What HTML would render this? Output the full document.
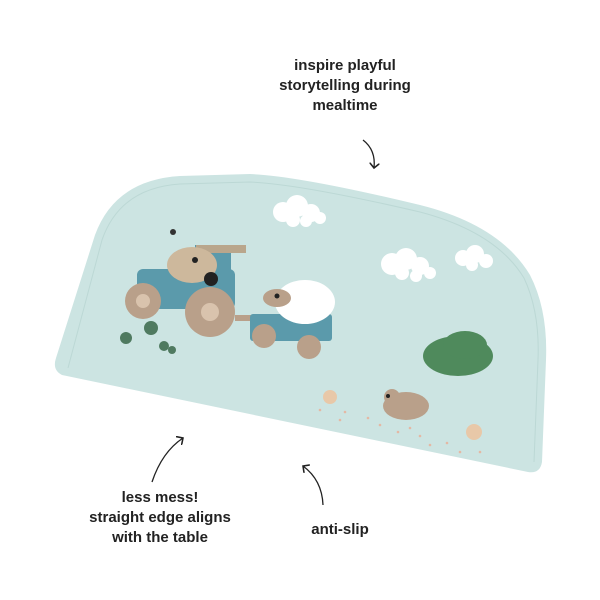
<!DOCTYPE html>
<html><head><style>
body{margin:0;width:600px;height:600px;background:#fff;overflow:hidden;position:relative;font-family:"Liberation Sans",sans-serif}
.t{position:absolute;font-weight:bold;font-size:15px;color:#222;text-align:center;line-height:20px}
</style></head><body>
<svg width="600" height="600" style="position:absolute;left:0;top:0">
<defs><marker id="a" markerWidth="8" markerHeight="8" refX="4" refY="4" orient="auto"><path d="M0,0 L4,4 L0,8" fill="none" stroke="#222" stroke-width="1.2"/></marker></defs>
<path d="M62,375 Q52,370 56,358 L95,235 Q115,180 180,176 L250,174 Q300,176 420,205 Q500,225 530,275 Q548,310 546,360 L542,462 Q540,474 528,472 Z" fill="#cce4e2"/>
<path d="M68,368 L102,240 Q120,188 180,184 L250,182 Q300,184 420,212 Q496,232 524,278 Q540,312 538,360 L534,462" fill="none" stroke="#bcd8d5" stroke-width="1"/>
<g fill="#fff">
<circle cx="283" cy="212" r="10"/><circle cx="297" cy="206" r="11"/><circle cx="311" cy="213" r="9"/><circle cx="320" cy="218" r="6"/><circle cx="293" cy="220" r="7"/><circle cx="306" cy="221" r="6"/>
<circle cx="392" cy="264" r="11"/><circle cx="406" cy="259" r="11"/><circle cx="420" cy="266" r="9"/><circle cx="430" cy="273" r="6"/><circle cx="402" cy="273" r="7"/><circle cx="416" cy="276" r="6"/>
<circle cx="463" cy="258" r="8"/><circle cx="475" cy="254" r="9"/><circle cx="486" cy="261" r="7"/><circle cx="472" cy="265" r="6"/>
</g>
<rect x="137" y="269" width="98" height="40" rx="6" fill="#5b9aab"/>
<rect x="195" y="245" width="36" height="30" fill="#5b9aab"/>
<rect x="196" y="245" width="50" height="8" fill="#b9a68c"/>
<ellipse cx="192" cy="265" rx="25" ry="18" fill="#cdb89c"/>
<circle cx="211" cy="279" r="7" fill="#222"/><circle cx="195" cy="260" r="3" fill="#222"/>
<circle cx="143" cy="301" r="18" fill="#b9a08a"/><circle cx="143" cy="301" r="7" fill="#d9c3ad"/>
<circle cx="210" cy="312" r="25" fill="#b9a08a"/><circle cx="210" cy="312" r="9" fill="#d9c3ad"/>
<rect x="235" y="315" width="20" height="6" fill="#b9a08a"/>
<rect x="250" y="314" width="82" height="27" rx="3" fill="#5b9aab"/>
<circle cx="264" cy="336" r="12" fill="#b9a08a"/><circle cx="309" cy="347" r="12" fill="#b9a08a"/>
<ellipse cx="305" cy="302" rx="30" ry="22" fill="#fff"/>
<ellipse cx="277" cy="298" rx="14" ry="9" fill="#b9a08a"/><circle cx="277" cy="296" r="2.5" fill="#222"/>
<g fill="#4f7a60"><circle cx="126" cy="338" r="6"/><circle cx="151" cy="328" r="7"/><circle cx="164" cy="346" r="5"/><circle cx="172" cy="350" r="4"/></g>
<ellipse cx="458" cy="356" rx="35" ry="20" fill="#4f8a5c"/><ellipse cx="465" cy="345" rx="22" ry="14" fill="#4f8a5c"/>
<ellipse cx="406" cy="406" rx="23" ry="14" fill="#b9a08a"/><circle cx="392" cy="397" r="8" fill="#b9a08a"/><circle cx="388" cy="396" r="2" fill="#222"/>
<circle cx="330" cy="397" r="7" fill="#e8c8a8"/><circle cx="474" cy="432" r="8" fill="#e8c8a8"/>
<g fill="#e4b8a4"><circle cx="320" cy="410" r="1.3"/><circle cx="345" cy="412" r="1.3"/><circle cx="368" cy="418" r="1.3"/><circle cx="380" cy="425" r="1.3"/><circle cx="398" cy="432" r="1.3"/><circle cx="420" cy="436" r="1.3"/><circle cx="430" cy="445" r="1.3"/><circle cx="447" cy="443" r="1.3"/><circle cx="460" cy="452" r="1.3"/><circle cx="480" cy="452" r="1.3"/><circle cx="340" cy="420" r="1.3"/><circle cx="410" cy="428" r="1.3"/></g>
<circle cx="173" cy="232" r="3" fill="#333"/>
<path d="M363,140 Q376,150 374,168" fill="none" stroke="#222" stroke-width="1.3" marker-end="url(#a)"/>
<path d="M152,482 Q162,452 183,438" fill="none" stroke="#222" stroke-width="1.3" marker-end="url(#a)"/>
<path d="M323,505 Q322,480 303,466" fill="none" stroke="#222" stroke-width="1.3" marker-end="url(#a)"/>
</svg>
<div class="t" style="left:255px;top:56px;width:180px">inspire playful<br>storytelling during<br>mealtime</div>
<div class="t" style="left:55px;top:488px;width:210px">less mess!<br>straight edge aligns<br>with the table</div>
<div class="t" style="left:300px;top:520px;width:80px">anti-slip</div>
</body></html>
